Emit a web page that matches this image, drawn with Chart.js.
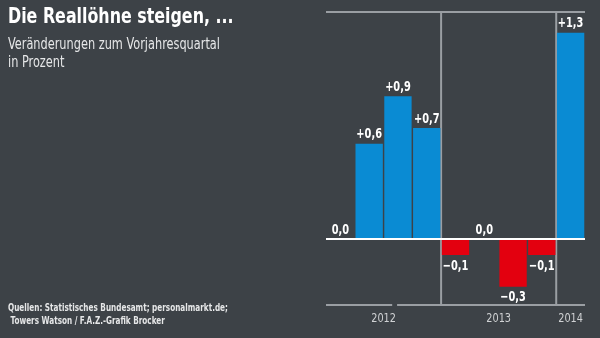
<!DOCTYPE html>
<html>
<head>
<meta charset="utf-8">
<script src="https://cdn.jsdelivr.net/npm/chart.js@4"></script>
<style>
  html, body { margin: 0; padding: 0; background: #3d4247; }
  #wrap { position: relative; width: 600px; height: 338px; overflow: hidden; }
  #c { position: absolute; left: 0; top: 0; }
  .txt { position: absolute; color: #ffffff; font-family: 'DejaVu Sans Condensed', sans-serif; transform-origin: left top; white-space: nowrap; }
  #title { left: 8px; top: 4px; font-size: 21px; font-weight: bold; transform: scaleX(0.84); }
  #sub { left: 8px; top: 35px; font-size: 15px; line-height: 18px; color: #e6e7e8; transform: scaleX(0.84); }
  #src { left: 8px; top: 301px; font-size: 10.5px; line-height: 13px; font-weight: bold; color: #e6e7e8; transform: scaleX(0.77); }
</style>
</head>
<body>
<div id="wrap">
  <canvas id="c" width="600" height="338"></canvas>
  <div class="txt" id="title">Die Reallöhne steigen, ...</div>
  <div class="txt" id="sub">Veränderungen zum Vorjahresquartal<br>in Prozent</div>
  <div class="txt" id="src">Quellen: Statistisches Bundesamt; personalmarkt.de;<br>&nbsp;Towers Watson / F.A.Z.-Grafik Brocker</div>
</div>
<script>
var quarters = ["Q1 2012", "Q2 2012", "Q3 2012", "Q4 2012", "Q1 2013", "Q2 2013", "Q3 2013", "Q4 2013", "Q1 2014"]
var werte = [0.0, 0.6, 0.9, 0.7, -0.1, 0.0, -0.3, -0.1, 1.3]
var jahre = ["2012", "2013", "2014"]
var jahrGruppen = [[0, 3], [4, 7], [8, 8]]

var blau = "#0a8bd3"
var rot = "#e3000f"
var grau = "#9a9ea3"

function fmt(v) {
  var s = Math.abs(v).toFixed(1).replace(".", ",")
  if (v > 0) return "+" + s
  if (v < 0) return "\u2212" + s
  return s
}

var deko = {
  id: "deko",
  beforeDatasetsDraw: function(chart) {
    var ctx = chart.ctx, a = chart.chartArea, x = chart.scales.x
    ctx.save()
    ctx.strokeStyle = grau
    ctx.lineWidth = 2
    ctx.beginPath()
    ctx.moveTo(a.left, a.top); ctx.lineTo(a.right, a.top)
    ctx.moveTo(a.left, a.bottom); ctx.lineTo(x.getPixelForValue(1.8), a.bottom)
    ctx.moveTo(x.getPixelForValue(1.97), a.bottom); ctx.lineTo(a.right, a.bottom)
    for (var i = 0; i < jahrGruppen.length - 1; i++) {
      var g = (x.getPixelForValue(jahrGruppen[i][1]) + x.getPixelForValue(jahrGruppen[i + 1][0])) / 2
      ctx.moveTo(g, a.top); ctx.lineTo(g, a.bottom)
    }
    ctx.stroke()
    ctx.restore()
  },
  afterDatasetsDraw: function(chart) {
    var ctx = chart.ctx, a = chart.chartArea, x = chart.scales.x, y = chart.scales.y
    var y0 = y.getPixelForValue(0)
    ctx.save()
    ctx.strokeStyle = "#ffffff"
    ctx.lineWidth = 2
    ctx.beginPath()
    ctx.moveTo(a.left, y0); ctx.lineTo(a.right, y0)
    ctx.stroke()

    ctx.fillStyle = "#ffffff"
    ctx.font = "bold 14px 'DejaVu Sans Condensed', sans-serif"
    ctx.textAlign = "center"
    werte.forEach(function(v, i) {
      var px = x.getPixelForValue(i)
      var py = y.getPixelForValue(v)
      ctx.save()
      ctx.translate(px, 0)
      ctx.scale(0.78, 1)
      if (v >= 0) {
        ctx.textBaseline = "bottom"
        ctx.fillText(fmt(v), 0, py - 2)
      } else {
        ctx.textBaseline = "top"
        ctx.fillText(fmt(v), 0, py + 4)
      }
      ctx.restore()
    })

    ctx.fillStyle = "#d0d2d4"
    ctx.font = "12px 'DejaVu Sans Condensed', sans-serif"
    ctx.textBaseline = "middle"
    jahre.forEach(function(j, k) {
      var g = jahrGruppen[k]
      var px = (x.getPixelForValue(g[0]) + x.getPixelForValue(g[1])) / 2
      ctx.save()
      ctx.translate(px, 0)
      ctx.scale(0.9, 1)
      ctx.fillText(j, 0, a.bottom + 14)
      ctx.restore()
    })
    ctx.restore()
  }
}

new Chart(document.getElementById("c"), {
  type: "bar",
  data: {
    labels: quarters,
    datasets: [{
      data: werte,
      backgroundColor: werte.map(function(v) { return v < 0 ? rot : blau }),
      borderWidth: 0,
      barPercentage: 0.95,
      categoryPercentage: 1
    }]
  },
  options: {
    responsive: false,
    animation: false,
    layout: { padding: { left: 326, right: 15, top: 12, bottom: 33 } },
    plugins: { legend: { display: false }, tooltip: { enabled: false } },
    scales: {
      x: { display: false },
      y: { display: false, min: -0.415, max: 1.43 }
    }
  },
  plugins: [deko]
})
</script>
</body>
</html>
